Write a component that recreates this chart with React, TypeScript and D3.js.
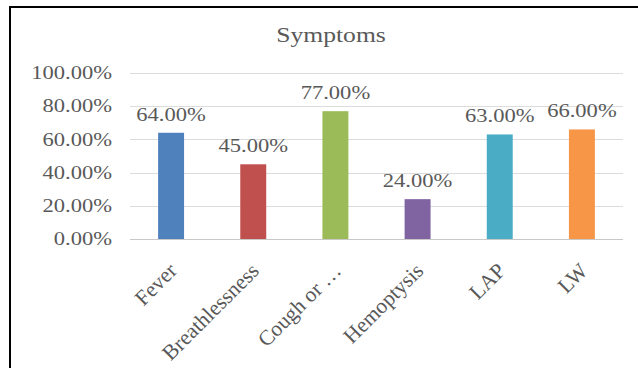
import React from "react";
import * as d3 from "d3";

const categories = ["Fever", "Breathlessness", "Cough or …", "Hemoptysis", "LAP", "LW"];
const values = [0.64, 0.45, 0.77, 0.24, 0.63, 0.66];
const colors = ["#4F81BD", "#C0504D", "#9BBB59", "#8064A2", "#4BACC6", "#F79646"];
const yTicks = [0, 0.2, 0.4, 0.6, 0.8, 1.0];
const title = "Symptoms";

const W = 638;
const H = 368;
const plot = { left: 130, right: 623, top: 73, bottom: 239 };
const textColor = "#595959";
const font = "'Liberation Serif', 'Times New Roman', serif";
const stretch = 1.22;
const labelStretch = 1.0;

export default function App() {
  const x = d3
    .scaleBand<string>()
    .domain(categories)
    .range([plot.left, plot.right])
    .paddingInner(0.684)
    .paddingOuter(0.342);
  const y = d3.scaleLinear().domain([0, 1]).range([plot.bottom, plot.top]);
  const fmt = (v: number) => d3.format(".2f")(v * 100) + "%";

  return (
    <svg
      width={W}
      height={H}
      style={{ position: "absolute", left: 0, top: 0, background: "#fff" }}
      fontFamily={font}
    >
      {/* frame */}
      <line x1={10} y1={7} x2={W} y2={7} stroke="#000" strokeWidth={2} />
      <line x1={10} y1={6} x2={10} y2={H} stroke="#000" strokeWidth={2} />

      {/* title */}
      <text
        transform={`translate(331,42) scale(${stretch},1)`}
        textAnchor="middle"
        fontSize={21}
        fill={textColor}
      >
        {title}
      </text>

      {/* gridlines and y tick labels */}
      {yTicks.map((t) => (
        <g key={t}>
          <line
            x1={plot.left}
            x2={plot.right}
            y1={Math.round(y(t)) + 0.5}
            y2={Math.round(y(t)) + 0.5}
            stroke={t === 0 ? "#c8c8c8" : "#dcdcdc"}
            strokeWidth={1}
          />
          <text
            transform={`translate(112,${y(t)}) scale(${stretch},1)`}
            textAnchor="end"
            dominantBaseline="central"
            fontSize={18.5}
            fill={textColor}
          >
            {fmt(t)}
          </text>
        </g>
      ))}

      {/* bars */}
      {categories.map((c, i) => (
        <rect
          key={c}
          x={x(c)!}
          y={y(values[i])}
          width={x.bandwidth()}
          height={y(0) - y(values[i])}
          fill={colors[i]}
        />
      ))}

      {/* value labels */}
      {categories.map((c, i) => (
        <text
          key={c}
          transform={`translate(${x(c)! + x.bandwidth() / 2},${y(values[i]) - 12}) scale(${stretch},1)`}
          textAnchor="middle"
          fontSize={18.5}
          fill={textColor}
        >
          {fmt(values[i])}
        </text>
      ))}

      {/* category labels */}
      {categories.map((c) => (
        <text
          key={c}
          transform={`translate(${x(c)! + x.bandwidth() / 2 - 3},262) scale(${labelStretch},1) rotate(-45)`}
          textAnchor="end"
          dy="0.66em"
          fontSize={21.5}
          fill={textColor}
        >
          {c}
        </text>
      ))}
    </svg>
  );
}
